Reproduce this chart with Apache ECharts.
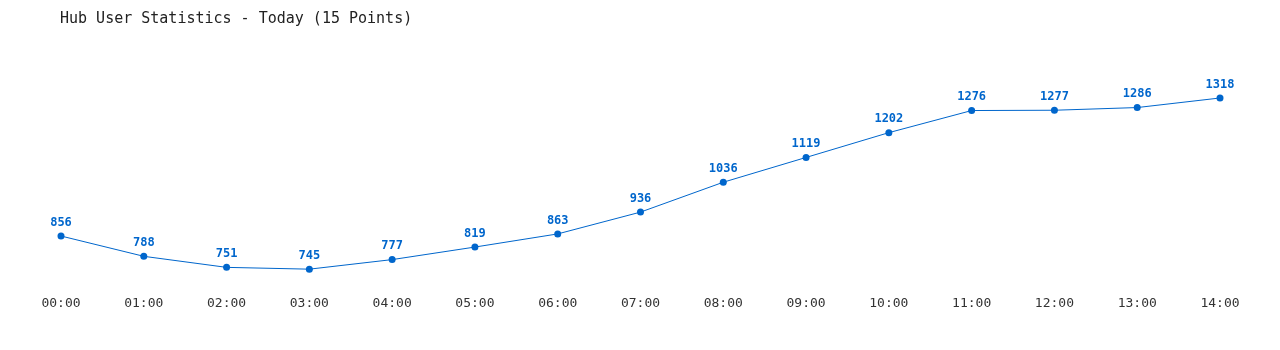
<!DOCTYPE html>
<html><head><meta charset="utf-8">
<script src="https://cdn.jsdelivr.net/npm/echarts@6/dist/echarts.min.js"></script>
<style>html,body{margin:0;padding:0;background:#fff}#c{width:1280px;height:350px}</style>
</head><body><div id="c"></div>
<script>
const categories = ["00:00","01:00","02:00","03:00","04:00","05:00","06:00","07:00","08:00","09:00","10:00","11:00","12:00","13:00","14:00"];
const users = [856,788,751,745,777,819,863,936,1036,1119,1202,1276,1277,1286,1318];
const titleText = "Hub User Statistics - Today (15 Points)";
const FONT = "'DejaVu Sans Mono', 'Liberation Mono', monospace";
const chart = echarts.init(document.getElementById('c'), null, {renderer:'canvas'});
chart.setOption({
  animation:false,
  backgroundColor:'#fff',
  title:{text:titleText,left:55,top:7,textStyle:{fontFamily:FONT,fontSize:15,fontWeight:'normal',color:'#222'}},
  grid:{left:61,right:60,top:73.5,bottom:67.4},
  xAxis:{type:'category',data:categories,boundaryGap:false,
    axisLine:{show:false},axisTick:{show:false},
    axisLabel:{margin:15,fontFamily:FONT,fontSize:13,color:'#333'}},
  yAxis:{type:'value',min:700,max:1400,show:false,splitLine:{show:false}},
  series:[{type:'line',data:users,symbol:'circle',symbolSize:7,
    lineStyle:{width:1,color:'#0066cc'},itemStyle:{color:'#0066cc'},
    label:{show:true,position:'top',distance:4,fontFamily:FONT,fontSize:12,fontWeight:'bold',color:'#0066cc'}}]
});
</script></body></html>
